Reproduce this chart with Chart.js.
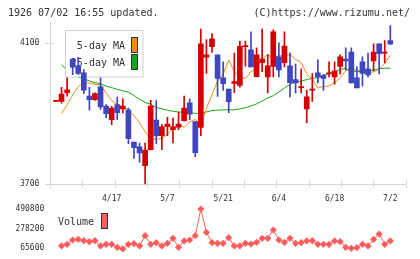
<!DOCTYPE html>
<html><head><meta charset="utf-8">
<script src="https://cdn.jsdelivr.net/npm/chart.js@4/dist/chart.umd.min.js"></script>
<style>
html,body{margin:0;padding:0;background:#fff;width:420px;height:259px;overflow:hidden;}
#wrap{position:relative;width:420px;height:259px;}
.hdr{position:absolute;top:6px;font:10px "DejaVu Sans Mono",monospace;color:#333;line-height:13px;white-space:pre;}
#main{position:absolute;left:0;top:0;width:420px;height:210px;}
#vol{position:absolute;left:0;top:200px;width:420px;height:59px;}
</style></head>
<body><div id="wrap">
<canvas id="main" width="420" height="210"></canvas>
<canvas id="vol" width="420" height="59"></canvas>
<div class="hdr" style="left:8px">1926 07/02 16:55 updated.</div>
<div class="hdr" style="right:10px">(C)https://www.rizumu.net/</div>
</div>
<script>
// ---- data (index 0 = previous-day marker, 1..60 = trading days) ----
const opens  = [3935,3935,3960,4054,4035,4016,3950,3940,3976,3922,3883,3926,3914,3911,3820,3806,3753,3798,3882,3838,3863,3855,3862,3880,3931,3878,3861,4060,4090,4067,4002,3970,3986,3980,4090,4081,4005,4045,4004,4034,4061,4045,4036,3997,3974,3914,3967,4016,4008,4013,4004,4034,4055,4075,4002,4047,4027,4050,4098,4072,4107];
const closes = [3937,3956,3968,4032,4014,3967,3940,3957,3919,3900,3916,3903,3922,3829,3804,3789,3797,3922,3837,3863,3871,3863,3871,3916,3899,3790,4098,4067,4112,4000,3985,3934,3991,4091,4092,4033,4067,4055,4036,4132,4024,4092,3988,3987,3976,3948,3968,4004,4000,4015,4021,4061,4050,3987,3973,4014,4010,4075,4070,4073,4098];
const highs  = [3937,3975,4002,4056,4060,4025,3975,3959,4002,3926,3921,3947,3942,3916,3820,3817,3817,3938,3937,3869,3890,3888,3905,3950,3942,3878,4140,4110,4127,4067,4047,3970,4072,4106,4106,4132,4087,4140,4068,4138,4101,4132,4072,4041,4027,3967,4014,4053,4011,4047,4047,4067,4087,4087,4033,4061,4072,4098,4098,4107,4150];
const lows   = [3935,3930,3950,4011,4011,3957,3910,3938,3912,3888,3869,3883,3902,3815,3773,3763,3700,3798,3815,3798,3838,3817,3855,3879,3883,3778,3838,4014,4074,3949,3966,3903,3960,3975,4035,4033,4005,4019,3959,4004,4004,4033,3948,3959,3959,3874,3935,3987,3966,4004,3984,4013,4024,3987,3973,3979,4004,4021,4013,4044,4096];
const ma5    = [null,3901,3925,3953,3977,3988,3987,3984,3982,3959,3937,3926,3919,3912,3894,3875,3849,3828,3828,3830,3842,3858,3871,3861,3877,3884,3868,3915,3954,3993,4013,4052,4020,4004,4000,4019,4028,4055,4068,4057,4065,4063,4068,4054,4045,4013,3998,3973,3977,3979,3987,4002,4022,4026,4024,4020,4018,4018,4026,4042,4066];
const ma25   = [null,4038,4024,4012,4004,3999,3993,3988,3985,3978,3974,3969,3965,3961,3952,3941,3932,3927,3918,3914,3910,3907,3905,3904,3903,3901,3901,3905,3909,3910,3911,3911,3911,3914,3917,3922,3928,3936,3945,3951,3962,3973,3983,3990,3992,3997,4000,4002,4009,4014,4018,4026,4028,4022,4019,4020,4021,4024,4028,4029,4029];
const volumes= [null,90800,108800,155700,162900,148500,137700,148500,90800,108800,108800,76400,58400,108800,116000,90800,202500,108800,126900,90800,119600,173700,76400,144900,155700,202500,490800,238500,126900,119600,119600,180900,90800,90800,119600,112400,130500,173700,173700,263800,155700,130500,173700,119600,126900,144900,148500,108800,108800,108800,144900,137700,76400,65600,72800,108800,90800,162900,220500,108800,144900];
const dateIdx    = [10,20,30,40,50,60];
const dateLabels = ['4/17','5/7','5/21','6/4','6/18','7/2'];
const priceTicks = [3700,4100];
const volTicks   = [65600,278200,490800];
const maNames    = ['5-day MA','25-day MA'];

// ---- styles ----
const RED='#d50000', BLUE='#3f46c0', ORANGE='#f28a14', GREEN='#14a814', VOLC='#ff5c5c', AXIS='#d6d6d6', TXT='#333';
const MONO='"DejaVu Sans Mono", monospace';
const X_MIN=-1.07, X_MAX=62.76;

const idx = opens.map((_, i) => i);
const col = idx.map(i => closes[i] >= opens[i] ? RED : BLUE);

function noPadY(s){ s.width = 50; s.paddingTop = 0; s.paddingBottom = 0; }
function noPadX(h){ return s => { s.height = h; s.paddingLeft = 0; s.paddingRight = 0; }; }

const axesPlugin = {
  id:'axesDraw',
  beforeDatasetsDraw(chart){
    const {ctx, chartArea:a, scales:{x,y}} = chart;
    ctx.save();
    ctx.strokeStyle = AXIS; ctx.lineWidth = 1;
    ctx.beginPath();
    ctx.moveTo(a.left+0.5, a.top); ctx.lineTo(a.left+0.5, a.bottom+4);
    ctx.moveTo(a.left-5, Math.round(a.bottom)+0.5); ctx.lineTo(a.right, Math.round(a.bottom)+0.5);
    priceTicks.forEach(v => { const py = Math.round(y.getPixelForValue(v))+0.5; ctx.moveTo(a.left-5, py); ctx.lineTo(a.left+4, py); });
    for (let k=0;k<=11;k++){ const px = Math.round(x.getPixelForValue(X_MIN + k*(X_MAX-X_MIN)/11))+0.5; ctx.moveTo(px, a.bottom-4); ctx.lineTo(px, a.bottom+4); }
    ctx.stroke();
    ctx.restore();
  },
  beforeDatasetDraw(chart, args){
    if (args.index !== 2) return;
    const ctx = chart.ctx;
    ctx.save();
    ctx.fillStyle = '#fff'; ctx.strokeStyle = '#d0d0d0'; ctx.lineWidth = 1;
    ctx.fillRect(65.5, 30.5, 77.5, 46.5); ctx.strokeRect(65.5, 30.5, 77.5, 46.5);
    ctx.font = '10px ' + MONO; ctx.fillStyle = TXT; ctx.textAlign = 'right'; ctx.textBaseline = 'middle';
    const rows = [46, 63];
    const cs = [ORANGE, GREEN];
    maNames.forEach((n, i) => {
      ctx.fillText(n, 125, rows[i]);
      ctx.fillStyle = cs[i]; ctx.fillRect(131.5, rows[i]-8.5, 6, 15);
      ctx.strokeStyle = '#333'; ctx.strokeRect(131.5, rows[i]-8.5, 6, 15);
      ctx.fillStyle = TXT;
    });
    ctx.restore();
  }
};

new Chart(document.getElementById('main'), {
  type:'bar',
  data:{ datasets:[
    {type:'line', label:maNames[0], data: idx.map(i=>({x:i, y:ma5[i]})), borderColor:ORANGE, borderWidth:1, pointRadius:0, tension:0, order:3},
    {type:'line', label:maNames[1], data: idx.map(i=>({x:i, y:ma25[i]})), borderColor:GREEN, borderWidth:1, pointRadius:0, tension:0, order:3},
    {type:'bar', label:'range', data: idx.map(i=>({x:i, y:[lows[i], highs[i]]})), backgroundColor:col, barThickness:1, grouped:false, order:2},
    {type:'bar', label:'body', data: idx.map(i=>({x:i, y:[opens[i], closes[i]]})), backgroundColor:col, barThickness:5, minBarLength:1, grouped:false, order:1}
  ]},
  options:{
    responsive:false, devicePixelRatio:1, animation:false,
    layout:{padding:{left:0, right:14.3, top:22, bottom:0}},
    plugins:{legend:{display:false}, tooltip:{enabled:false}},
    scales:{
      x:{type:'linear', min:X_MIN, max:X_MAX, offset:false,
         afterBuildTicks:s=>{ s.ticks = dateIdx.map(v=>({value:v})); },
         afterFit:noPadX(25.7),
         ticks:{ autoSkip:false, maxRotation:0, padding:10, color:TXT, font:{family:MONO, size:8},
                 callback:(v)=>{ const k = dateIdx.indexOf(v); return k>=0 ? dateLabels[k] : ''; } },
         grid:{display:false, drawTicks:false, offset:false}, border:{display:false}},
      y:{type:'linear', min:3700, max:4160,
         afterBuildTicks:s=>{ s.ticks = priceTicks.map(v=>({value:v})); },
         afterFit:noPadY,
         ticks:{ padding:10.7, color:TXT, font:{family:MONO, size:8}, callback:v=>String(v) },
         grid:{display:false, drawTicks:false}, border:{display:false}}
    }
  },
  plugins:[axesPlugin]
});

const volLegend = {
  id:'volLegend',
  afterDatasetsDraw(chart){
    const ctx = chart.ctx;
    ctx.save();
    ctx.font = '10px ' + MONO; ctx.fillStyle = TXT; ctx.textAlign = 'left'; ctx.textBaseline = 'middle';
    ctx.fillText('Volume', 58, 22);
    ctx.fillStyle = VOLC; ctx.fillRect(101.5, 13.5, 6, 15);
    ctx.strokeStyle = '#333'; ctx.lineWidth = 1; ctx.strokeRect(101.5, 13.5, 6, 15);
    ctx.restore();
  }
};

new Chart(document.getElementById('vol'), {
  type:'line',
  data:{ datasets:[
    {label:'Volume', data: idx.map(i=>({x:i, y:volumes[i]})), borderColor:VOLC, backgroundColor:VOLC, borderWidth:1,
     pointStyle:'rectRot', pointRadius:3.6, pointBorderWidth:0, tension:0}
  ]},
  options:{
    responsive:false, devicePixelRatio:1, animation:false,
    layout:{padding:{left:0, right:14.3, top:5, bottom:7}},
    plugins:{legend:{display:false}, tooltip:{enabled:false}},
    scales:{
      x:{type:'linear', min:X_MIN, max:X_MAX, display:false, offset:false},
      y:{type:'linear', min:25600, max:534100,
         afterBuildTicks:s=>{ s.ticks = volTicks.map(v=>({value:v})); },
         afterFit:noPadY,
         ticks:{ padding:5.7, color:TXT, font:{family:MONO, size:8}, callback:v=>String(v) },
         grid:{display:false, drawTicks:false}, border:{display:false}}
    }
  },
  plugins:[volLegend]
});
</script>
</body></html>
